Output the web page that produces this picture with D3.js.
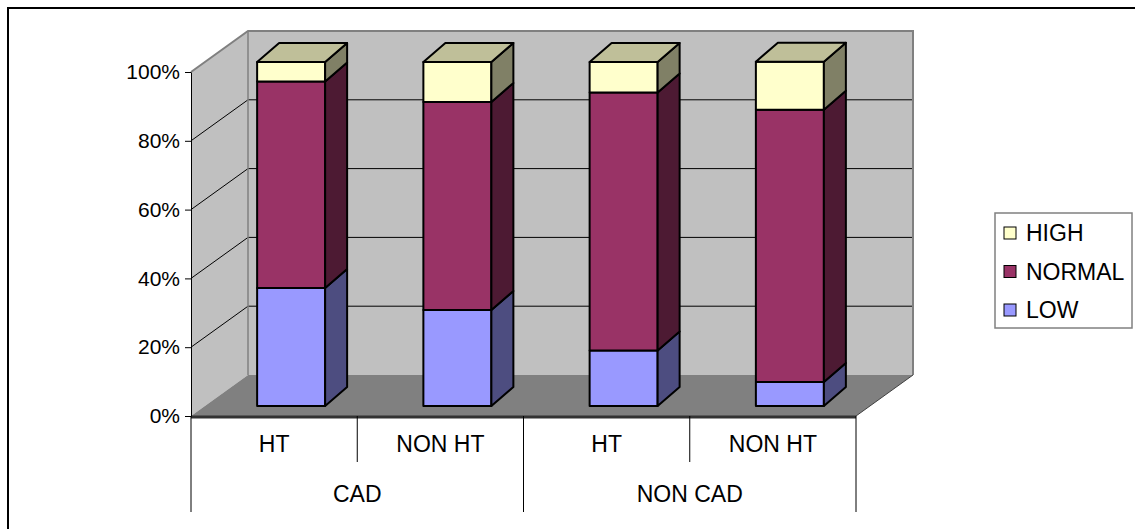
<!DOCTYPE html>
<html>
<head>
<meta charset="utf-8">
<script src="https://cdn.jsdelivr.net/npm/d3@7"></script>
<style>
  html, body { margin: 0; padding: 0; background: #fff; }
  svg { display: block; font-family: "Liberation Sans", Arial, sans-serif; }
</style>
</head>
<body>
<svg id="chart" width="1135" height="529"></svg>
<script>
// Categories (inner: HT status, outer: CAD status)
const categories = ["HT", "NON HT", "HT", "NON HT"];
const groups = ["CAD", "NON CAD"];
const seriesNames = ["LOW", "NORMAL", "HIGH"];

// Percent share of each level per category
const lowValues = [34.3, 27.9, 16.1, 7.0];
const normalValues = [60.0, 60.5, 75.0, 79.1];
const highValues = [5.7, 11.6, 8.9, 14.0];

const yTicks = [0, 20, 40, 60, 80, 100];

const colors = { LOW: "#9999FF", NORMAL: "#993366", HIGH: "#FFFFCC" };

(function draw() {
  const svg = d3.select("#chart");

  // Plot frame (front plane) and depth of the 3D box
  const plotLeft = 191, plotRight = 856, plotBottom = 416, plotTop = 72;
  const depthX = 57, depthY = -41;

  const x = d3.scaleBand().domain(d3.range(categories.length)).range([plotLeft, plotRight]);
  const y = d3.scaleLinear().domain([0, 100]).range([plotBottom, plotTop]);

  // Bars sit partly inside the box
  const barShiftX = 17, barShiftY = -10;
  const barWidth = 68;
  const barDX = 22, barDY = -19;

  const rows = categories.map((c, i) => ({
    LOW: lowValues[i], NORMAL: normalValues[i], HIGH: highValues[i]
  }));
  const stacked = d3.stack().keys(seriesNames)(rows);

  const shade = (c, k) => {
    const col = d3.rgb(c);
    return d3.rgb(col.r * k, col.g * k, col.b * k).formatHex();
  };

  // Outer chart frame
  svg.append("rect")
    .attr("x", 8).attr("y", 8).attr("width", 1200).attr("height", 600)
    .attr("fill", "none").attr("stroke", "#000").attr("stroke-width", 2);

  const pts = arr => arr.map(p => p.join(",")).join(" ");

  // Side wall
  svg.append("polygon")
    .attr("points", pts([[plotLeft, y(100)], [plotLeft + depthX, y(100) + depthY], [plotLeft + depthX, y(0) + depthY], [plotLeft, y(0)]]))
    .attr("fill", "#C0C0C0");

  // Back wall
  svg.append("polygon")
    .attr("points", pts([[plotLeft + depthX, y(100) + depthY], [plotRight + depthX, y(100) + depthY], [plotRight + depthX, y(0) + depthY], [plotLeft + depthX, y(0) + depthY]]))
    .attr("fill", "#C0C0C0");

  // Floor
  svg.append("polygon")
    .attr("points", pts([[plotLeft, y(0)], [plotRight, y(0)], [plotRight + depthX, y(0) + depthY], [plotLeft + depthX, y(0) + depthY]]))
    .attr("fill", "#808080");

  // Gridlines on walls
  const grid = svg.append("g").attr("stroke", "#000").attr("stroke-width", 1);
  yTicks.filter(v => v > 0 && v < 100).forEach(v => {
    grid.append("line")
      .attr("x1", plotLeft).attr("y1", y(v))
      .attr("x2", plotLeft + depthX).attr("y2", y(v) + depthY);
    grid.append("line")
      .attr("x1", plotLeft + depthX).attr("y1", y(v) + depthY)
      .attr("x2", plotRight + depthX).attr("y2", y(v) + depthY);
  });

  // Wall edges
  const edges = svg.append("g").attr("stroke", "#808080").attr("stroke-width", 2).attr("fill", "none");
  edges.append("polyline")
    .attr("points", pts([[plotLeft, y(100)], [plotLeft + depthX, y(100) + depthY], [plotRight + depthX, y(100) + depthY], [plotRight + depthX, y(0) + depthY]]));
  edges.append("line")
    .attr("x1", plotLeft + depthX).attr("y1", y(100) + depthY)
    .attr("x2", plotLeft + depthX).attr("y2", y(0) + depthY)
    .attr("stroke-width", 1.5);

  // Floor outer edges
  svg.append("line")
    .attr("x1", plotRight).attr("y1", y(0)).attr("x2", plotRight + depthX).attr("y2", y(0) + depthY)
    .attr("stroke", "#404040").attr("stroke-width", 1);
  svg.append("line")
    .attr("x1", plotLeft).attr("y1", y(0) + 1).attr("x2", plotRight).attr("y2", y(0) + 1)
    .attr("stroke", "#333").attr("stroke-width", 3);

  // Y axis
  const yAxis = svg.append("g")
    .attr("transform", `translate(${plotLeft},0)`)
    .call(d3.axisLeft(y).tickValues(yTicks).tickFormat(d => d + "%").tickSize(6).tickPadding(5).tickSizeOuter(0));
  yAxis.select(".domain").attr("stroke", "#000");
  yAxis.selectAll(".tick line").attr("stroke", "#000");
  yAxis.selectAll(".tick text")
    .attr("font-size", 21).attr("fill", "#000")
    .attr("font-family", "Liberation Sans, Arial, sans-serif");

  // Bars
  const barsG = svg.append("g").attr("stroke", "#000").attr("stroke-width", 2).attr("stroke-linejoin", "round");
  categories.forEach((c, i) => {
    const x0 = x(i) + x.bandwidth() / 2 + barShiftX - barWidth / 2;
    const x1 = x0 + barWidth;
    stacked.forEach((s, si) => {
      const d = s[i];
      const yb = y(d[0]) + barShiftY;
      const yt = y(d[1]) + barShiftY;
      const col = colors[s.key];
      // front face
      barsG.append("polygon")
        .attr("points", pts([[x0, yb], [x1, yb], [x1, yt], [x0, yt]]))
        .attr("fill", col);
      // side face
      barsG.append("polygon")
        .attr("points", pts([[x1, yb], [x1 + barDX, yb + barDY], [x1 + barDX, yt + barDY], [x1, yt]]))
        .attr("fill", shade(col, 0.5));
      // top face on the topmost segment
      if (si === stacked.length - 1) {
        barsG.append("polygon")
          .attr("points", pts([[x0, yt], [x1, yt], [x1 + barDX, yt + barDY], [x0 + barDX, yt + barDY]]))
          .attr("fill", shade(col, 0.75));
      }
    });
  });

  // Category axis: separators and two-level labels
  const catG = svg.append("g");
  const sepTop = y(0);
  x.domain().forEach(i => {
    const isOuter = i % 2 === 0;
    catG.append("line")
      .attr("x1", x(i)).attr("x2", x(i))
      .attr("y1", sepTop).attr("y2", isOuter ? 512 : 462)
      .attr("stroke", "#000").attr("stroke-width", 1);
  });
  catG.append("line")
    .attr("x1", plotRight).attr("x2", plotRight).attr("y1", sepTop).attr("y2", 512)
    .attr("stroke", "#000").attr("stroke-width", 1);

  catG.selectAll("text.cat")
    .data(categories)
    .join("text")
    .attr("class", "cat")
    .attr("x", (d, i) => x(i) + x.bandwidth() / 2)
    .attr("y", 452)
    .attr("text-anchor", "middle")
    .attr("font-size", 23)
    .text(d => d);

  catG.selectAll("text.grp")
    .data(groups)
    .join("text")
    .attr("class", "grp")
    .attr("x", (d, gi) => (x(gi * 2) + x(gi * 2 + 1) + x.bandwidth()) / 2)
    .attr("y", 502)
    .attr("text-anchor", "middle")
    .attr("font-size", 23)
    .text(d => d);

  // Legend
  const legend = svg.append("g");
  legend.append("rect")
    .attr("x", 995).attr("y", 213).attr("width", 137).attr("height", 115)
    .attr("fill", "#fff").attr("stroke", "#808080").attr("stroke-width", 1.5);
  const legendOrder = ["HIGH", "NORMAL", "LOW"];
  legendOrder.forEach((name, k) => {
    const cy = 233 + k * 38.5;
    legend.append("rect")
      .attr("x", 1004).attr("y", cy - 6).attr("width", 12).attr("height", 12)
      .attr("fill", colors[name]).attr("stroke", "#000").attr("stroke-width", 1);
    legend.append("text")
      .attr("x", 1026).attr("y", cy + 8)
      .attr("font-size", 23)
      .text(name);
  });
})();
</script>
</body>
</html>
